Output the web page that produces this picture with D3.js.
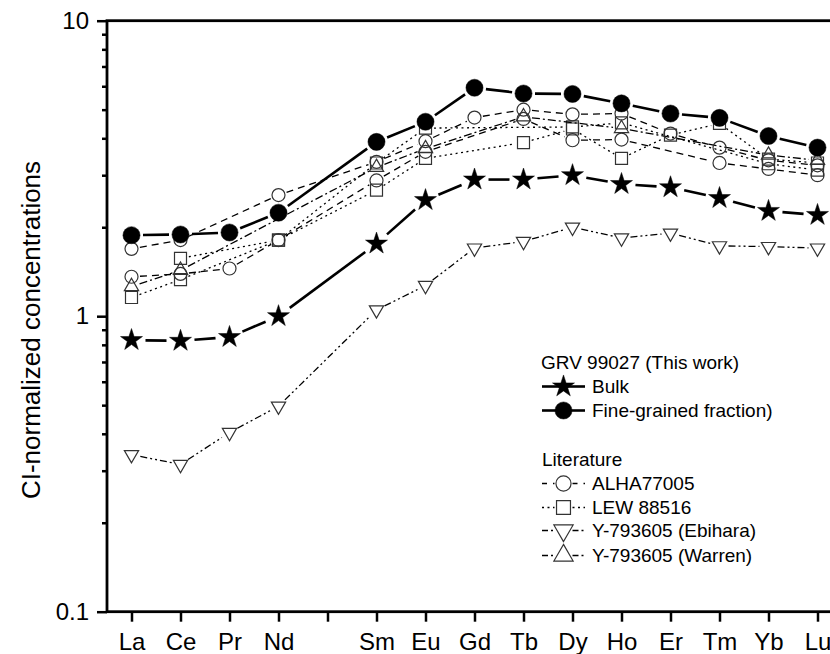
<!DOCTYPE html>
<html>
<head>
<meta charset="utf-8">
<script src="https://cdn.jsdelivr.net/npm/d3@7"></script>
<style>
    body { margin: 0; background: #fff; }
    text { font-family: Arial, "Liberation Sans", sans-serif; }
</style>
</head>
<body>
<div id="chart"></div>
<script>
// REE element order (Pm has a tick but no data / label)
const elements = ["La","Ce","Pr","Nd","Pm","Sm","Eu","Gd","Tb","Dy","Ho","Er","Tm","Yb","Lu"];
const tickLabels = ["La","Ce","Pr","Nd","","Sm","Eu","Gd","Tb","Dy","Ho","Er","Tm","Yb","Lu"];
const yMajorTicks = [0.1, 1, 10];
const yMinorTicks = [0.2,0.3,0.4,0.5,0.6,0.7,0.8,0.9,2,3,4,5,6,7,8,9];

// GRV 99027 (this work)
const bulk = [0.83, 0.825, 0.85, 1.0, null, 1.76, 2.47, 2.90, 2.90, 3.00, 2.80, 2.73, 2.51, 2.27, 2.20];
const fineGrained = [1.88, 1.89, 1.92, 2.24, null, 3.89, 4.55, 5.93, 5.67, 5.65, 5.25, 4.85, 4.69, 4.07, 3.72];

// literature
const alhaA = [1.69, 1.81, null, 2.57, null, 3.33, 3.91, 4.70, 5.00, 4.82, 4.85, 4.15, 3.72, 3.37, 3.24];
const alhaB = [1.36, 1.39, 1.45, 1.81, null, 2.88, 3.60, null, 4.65, 3.94, 3.96, null, 3.30, 3.15, 3.00];
const lewA = [1.157, 1.33, null, 1.81, null, 2.67, 3.42, null, 3.87, 4.30, 3.42, 4.10, 4.49, 3.40, 3.30];
const lewB = [null, 1.57, null, 1.81, null, 3.30, 4.33, null, null, 4.37, 4.51, null, null, 3.28, 3.12];
const ebihara = [0.34, 0.315, 0.404, 0.496, null, 1.05, 1.27, 1.70, 1.79, 2.00, 1.84, 1.91, 1.73, 1.72, 1.70];
const warren = [1.26, 1.43, null, null, null, 3.19, 3.69, null, 4.73, null, 4.32, null, null, 3.51, 3.37];

class REEChart {
    constructor(parentElement) {
        this.parentElement = parentElement;
        this.initVis();
    }

    initVis() {
        let vis = this;
        vis.width = 830;
        vis.height = 654;

        vis.svg = d3.select("#" + vis.parentElement).append("svg")
            .attr("width", vis.width)
            .attr("height", vis.height);

        // frame runs past the right edge of the picture
        vis.x = d3.scaleLinear().domain([-0.5, 14.5]).range([107, 842]);
        vis.y = d3.scaleLog().domain([0.1, 10]).range([611.7, 20.7]);

        vis.drawAxes();

        // literature first, own sample on top
        vis.drawSeries(lewB, {shape: "square", dash: "2,3.5", width: 1.3, gap: 8.5});
        vis.drawSeries(lewA, {shape: "square", dash: "2,3.5", width: 1.3, gap: 8.5});
        vis.drawSeries(warren, {shape: "up", dash: "8,3,2,3", width: 1.3, gap: 8.5});
        vis.drawSeries(alhaB, {shape: "circle", dash: "7,5", width: 1.3, gap: 8.5});
        vis.drawSeries(alhaA, {shape: "circle", dash: "7,5", width: 1.3, gap: 8.5});
        vis.drawSeries(ebihara, {shape: "down", dash: "7,3,2,3,2,3", width: 1.3, gap: 9});
        vis.drawSeries(bulk, {shape: "star", dash: null, width: 2.6, gap: 14});
        vis.drawSeries(fineGrained, {shape: "filled", dash: null, width: 2.6, gap: 11.5});

        vis.drawLegend();
    }

    symbolPath(shape, big) {
        let k = big ? 1.35 : 1;
        if (shape === "circle") return d3.symbol().type(d3.symbolCircle).size(133 * k)();
        if (shape === "square") return d3.symbol().type(d3.symbolSquare).size(144 * k)();
        if (shape === "up" || shape === "down") return d3.symbol().type(d3.symbolTriangle).size(88 * k * k)();
        if (shape === "star") return d3.symbol().type(d3.symbolStar).size(150)();
        return d3.symbol().type(d3.symbolCircle).size(230)();
    }

    addMarker(g, shape, cx, cy, big) {
        let vis = this;
        let rot = shape === "down" ? " rotate(180)" : "";
        let solid = shape === "star" || shape === "filled";
        g.append("path")
            .attr("d", vis.symbolPath(shape, big))
            .attr("transform", "translate(" + cx + "," + cy + ")" + rot)
            .attr("fill", solid ? "#000" : "none")
            .attr("stroke", solid ? "#000" : "#333")
            .attr("stroke-width", solid ? 0.5 : 1.2);
    }

    drawSeries(values, opt) {
        let vis = this;
        let g = vis.svg.append("g");
        let pts = values.map((v, i) => v == null ? null : [vis.x(i), vis.y(v)]).filter(p => p);

        // segments stop short of the markers
        for (let i = 0; i < pts.length - 1; i++) {
            let a = pts[i], b = pts[i + 1];
            let dx = b[0] - a[0], dy = b[1] - a[1];
            let len = Math.sqrt(dx * dx + dy * dy);
            if (len <= opt.gap * 2) continue;
            let ux = dx / len, uy = dy / len;
            g.append("line")
                .attr("x1", a[0] + ux * opt.gap).attr("y1", a[1] + uy * opt.gap)
                .attr("x2", b[0] - ux * opt.gap).attr("y2", b[1] - uy * opt.gap)
                .attr("stroke", "#000")
                .attr("stroke-width", opt.width)
                .attr("stroke-dasharray", opt.dash);
        }
        pts.forEach(p => vis.addMarker(g, opt.shape, p[0], p[1], false));
    }

    drawAxes() {
        let vis = this;

        let xAxis = d3.axisBottom(vis.x)
            .tickValues(d3.range(elements.length))
            .tickFormat(i => tickLabels[i])
            .tickSize(10).tickPadding(11).tickSizeOuter(0);
        let gx = vis.svg.append("g").attr("transform", "translate(0,611.7)").call(xAxis);

        let yAxis = d3.axisLeft(vis.y)
            .tickValues(yMajorTicks)
            .tickFormat(d => String(d))
            .tickSize(10).tickPadding(8).tickSizeOuter(0);
        let gy = vis.svg.append("g").attr("transform", "translate(107,0)").call(yAxis);

        let yMinor = d3.axisLeft(vis.y)
            .tickValues(yMinorTicks)
            .tickFormat("")
            .tickSize(5).tickSizeOuter(0);
        let gm = vis.svg.append("g").attr("transform", "translate(107,0)").call(yMinor);

        [gx, gy, gm].forEach(g => {
            g.select(".domain").remove();
            g.selectAll(".tick line").attr("stroke", "#000").attr("stroke-width", 2.5);
            g.selectAll("text")
                .attr("font-family", "Arial, 'Liberation Sans', sans-serif")
                .attr("font-size", 24)
                .attr("fill", "#000");
        });

        vis.svg.append("rect")
            .attr("x", vis.x(-0.5)).attr("y", vis.y(10))
            .attr("width", vis.x(14.5) - vis.x(-0.5))
            .attr("height", vis.y(0.1) - vis.y(10))
            .attr("fill", "none")
            .attr("stroke", "#000")
            .attr("stroke-width", 2.8);

        vis.svg.append("text")
            .attr("transform", "translate(40,330) rotate(-90)")
            .attr("text-anchor", "middle")
            .attr("font-size", 26)
            .text("CI-normalized concentrations");
    }

    drawLegend() {
        let vis = this;
        let lg = vis.svg.append("g").attr("font-size", 19);
        let lx0 = 542, lx1 = 585, mx = 563.5, tx = 592;

        lg.append("text").attr("x", 541).attr("y", 369).text("GRV 99027 (This work)");
        lg.append("text").attr("x", 542).attr("y", 466).text("Literature");

        let rows = [
            {label: "Bulk", shape: "star", dash: null, width: 2.6, gap: 0, base: 393},
            {label: "Fine-grained fraction)", shape: "filled", dash: null, width: 2.6, gap: 0, base: 417},
            {label: "ALHA77005", shape: "circle", dash: "5,6", width: 1.3, gap: 9, base: 490},
            {label: "LEW 88516", shape: "square", dash: "2,3.5", width: 1.3, gap: 9, base: 514},
            {label: "Y-793605 (Ebihara)", shape: "down", dash: "6,3,2,3", width: 1.3, gap: 9, base: 537},
            {label: "Y-793605 (Warren)", shape: "up", dash: "6,3,2,3", width: 1.3, gap: 9, base: 562}
        ];

        rows.forEach(r => {
            let cy = r.base - 6.5;
            [[lx0, mx - r.gap], [mx + r.gap, lx1]].forEach(s => {
                lg.append("line")
                    .attr("x1", s[0]).attr("x2", s[1]).attr("y1", cy).attr("y2", cy)
                    .attr("stroke", "#000").attr("stroke-width", r.width)
                    .attr("stroke-dasharray", r.dash);
            });
            vis.addMarker(lg, r.shape, mx, cy, true);
            lg.append("text").attr("x", tx).attr("y", r.base).text(r.label);
        });
    }
}

new REEChart("chart");
</script>
</body>
</html>
